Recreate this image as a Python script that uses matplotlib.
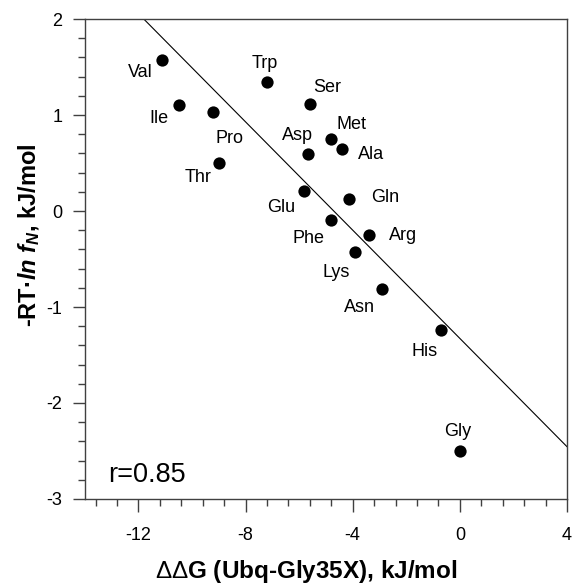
import matplotlib
matplotlib.use("Agg")
import matplotlib.pyplot as plt
import numpy as np
from matplotlib.ticker import MultipleLocator

plt.rcParams['font.family'] = ['Liberation Sans', 'DejaVu Sans']
plt.rcParams['axes.unicode_minus'] = False
plt.rcParams['mathtext.fontset'] = 'custom'
plt.rcParams['mathtext.rm'] = 'Liberation Sans'
plt.rcParams['mathtext.it'] = 'Liberation Sans:italic'
plt.rcParams['mathtext.bf'] = 'Liberation Sans:bold'
plt.rcParams['mathtext.bfit'] = 'Liberation Sans:italic:bold'

# Data
residues = ["Val", "Ile", "Pro", "Thr", "Trp", "Glu", "Ser", "Asp", "Met",
            "Ala", "Gln", "Phe", "Arg", "Lys", "Asn", "His", "Gly"]
ddG = [-11.1, -10.47, -9.2, -8.98, -7.2, -5.8, -5.58, -5.65, -4.8,
       -4.4, -4.13, -4.8, -3.4, -3.9, -2.9, -0.7, 0.0]
rtlnf = [1.57, 1.10, 1.03, 0.50, 1.34, 0.21, 1.11, 0.59, 0.75,
         0.65, 0.125, -0.09, -0.25, -0.43, -0.81, -1.24, -2.50]
# label anchor positions (center x, baseline y) in data units
label_x = [-11.91, -11.25, -8.59, -9.78, -7.27, -6.66, -4.94, -6.07, -4.05,
           -3.31, -2.78, -5.66, -2.13, -4.60, -3.73, -1.33, -0.07]
label_y = [1.392, 0.920, 0.711, 0.299, 1.486, -0.007, 1.243, 0.740, 0.851,
           0.545, 0.090, -0.336, -0.302, -0.684, -1.049, -1.510, -2.340]
fit_slope = -0.282
fit_intercept = -1.327
r_text = "r=0.85"

xlim = (-14, 4)
ylim = (-3, 2)

fig = plt.figure(figsize=(5.73, 5.86), dpi=100)
ax = fig.add_axes([0.148, 0.1485, 0.8415, 0.819])

fit_x = np.array(xlim, dtype=float)
ax.plot(fit_x, fit_slope * fit_x + fit_intercept, color='black', lw=0.8, zorder=2)
ax.scatter(ddG, rtlnf, s=78, color='black', zorder=3, linewidths=0)

for name, lx, ly in zip(residues, label_x, label_y):
    ax.text(lx, ly, name, ha='center', va='baseline', fontsize=13, color='black')

ax.text(-13.12, -2.82, r_text, fontsize=19.5, ha='left', va='baseline')

ax.set_xlim(*xlim)
ax.set_ylim(*ylim)
ax.xaxis.set_major_locator(MultipleLocator(4))
ax.xaxis.set_minor_locator(MultipleLocator(0.8))
ax.yaxis.set_major_locator(MultipleLocator(1))
ax.yaxis.set_minor_locator(MultipleLocator(0.2))

spine_c = '#404040'
for s in ax.spines.values():
    s.set_color(spine_c)
    s.set_linewidth(1.0)
ax.tick_params(which='major', direction='out', length=9, width=1, color=spine_c,
               labelsize=13, pad=7)
ax.tick_params(which='minor', direction='out', length=5, width=1, color=spine_c)
ax.tick_params(axis='x', which='major', pad=11)

ax.set_xlabel(r"$\Delta\mathit{\Delta}$G (Ubq-Gly35X), kJ/mol", fontsize=17.5,
              fontweight='bold')
ax.xaxis.set_label_coords(0.46, -0.123)
ax.set_ylabel(r"-RT·$\mathbfit{ln\ f}_{\mathbfit{N}}$, kJ/mol",
              fontsize=17, fontweight='bold')
ax.yaxis.set_label_coords(-0.089, 0.55)

fig.savefig("out.png", dpi=100)
